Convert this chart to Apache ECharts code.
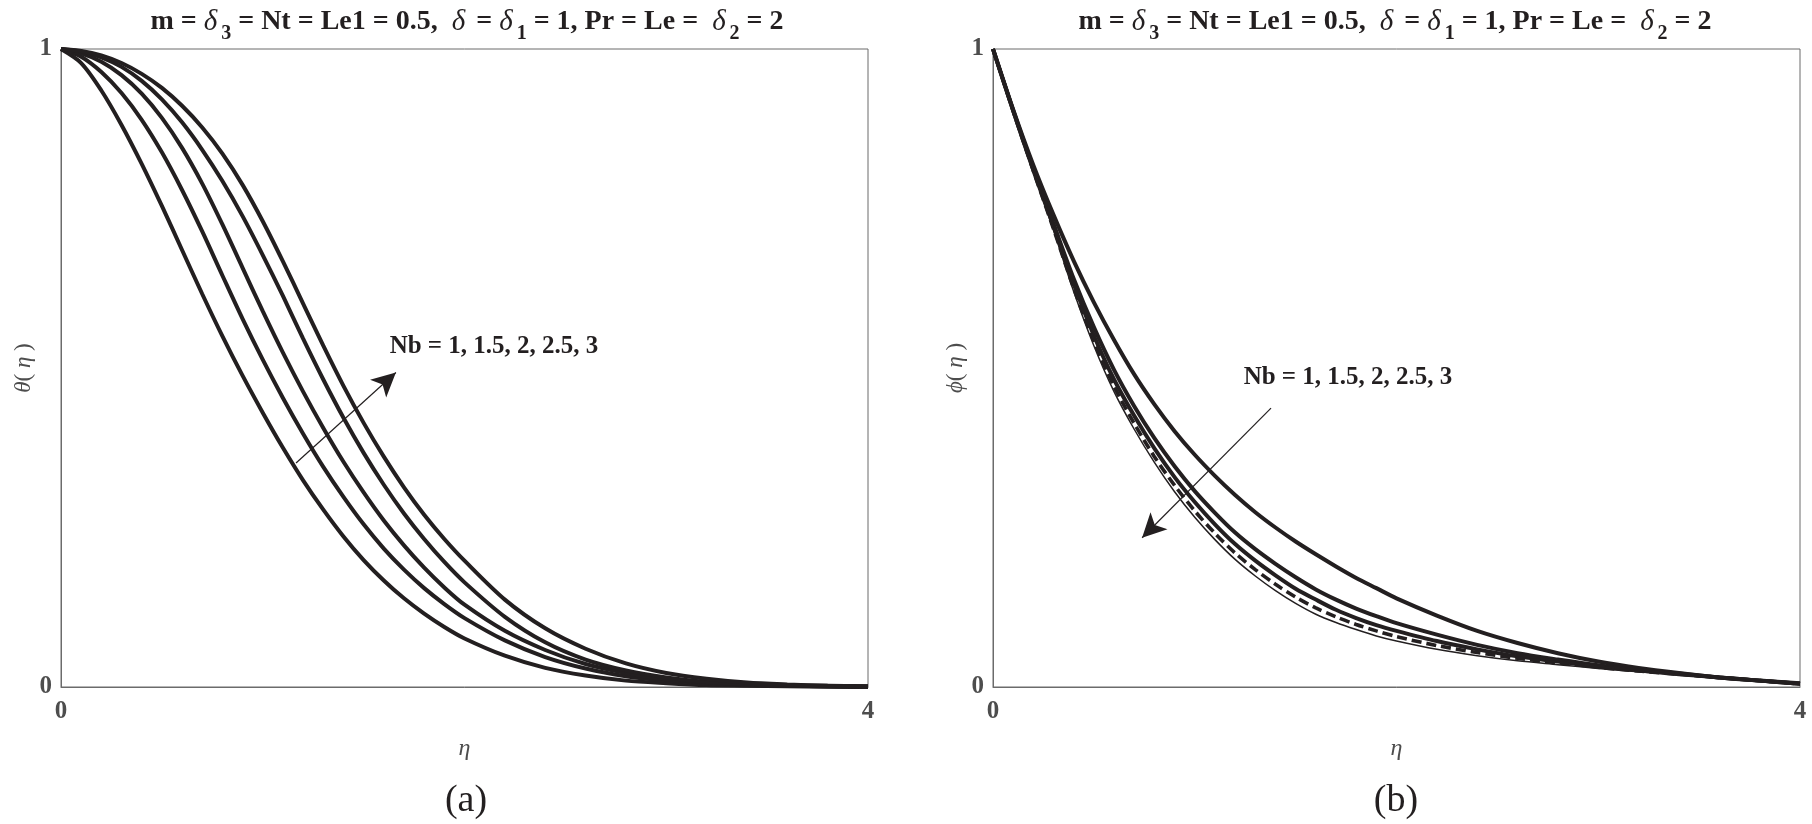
<!DOCTYPE html>
<html lang="en">
<head>
<meta charset="UTF-8">
<title>Nb profiles</title>
<style>
  html, body { margin: 0; padding: 0; background: #fff; }
  #chart { width: 1812px; height: 824px; }
</style>
</head>
<body>
<div id="chart"></div>

<script src="https://cdn.jsdelivr.net/npm/echarts@6/dist/echarts.min.js"></script>
<script type="text/javascript">
// eta grid shared by every curve
var eta = [0, 0.1, 0.2, 0.3, 0.4, 0.5, 0.6, 0.7, 0.8, 0.9, 1.0,
           1.1, 1.2, 1.3, 1.4, 1.5, 1.6, 1.7, 1.8, 1.9, 2.0,
           2.2, 2.4, 2.6, 2.8, 3.0, 3.2, 3.4, 3.6, 3.8, 4.0];

var nbValues = ['1', '1.5', '2', '2.5', '3'];

// (a) temperature theta(eta)
var thetaNb1   = [1.000, 0.978, 0.935, 0.881, 0.820, 0.754, 0.685, 0.616, 0.550, 0.488, 0.430,
                  0.375, 0.324, 0.278, 0.236, 0.199, 0.167, 0.139, 0.115, 0.094, 0.076,
                  0.049, 0.030, 0.018, 0.010, 0.006, 0.003, 0.002, 0.001, 0.0005, 0.000];
var thetaNb1_5 = [1.000, 0.988, 0.964, 0.931, 0.889, 0.838, 0.779, 0.714, 0.645, 0.577, 0.513,
                  0.453, 0.397, 0.345, 0.298, 0.255, 0.217, 0.184, 0.155, 0.130, 0.108,
                  0.073, 0.047, 0.029, 0.017, 0.010, 0.005, 0.003, 0.002, 0.001, 0.000];
var thetaNb2   = [1.000, 0.993, 0.980, 0.959, 0.930, 0.892, 0.845, 0.789, 0.725, 0.657, 0.589,
                  0.524, 0.463, 0.406, 0.353, 0.305, 0.261, 0.222, 0.187, 0.156, 0.129,
                  0.088, 0.058, 0.036, 0.022, 0.012, 0.007, 0.004, 0.002, 0.001, 0.000];
var thetaNb2_5 = [1.000, 0.996, 0.987, 0.972, 0.950, 0.921, 0.885, 0.842, 0.793, 0.738, 0.677,
                  0.613, 0.546, 0.482, 0.422, 0.367, 0.317, 0.272, 0.232, 0.196, 0.164,
                  0.110, 0.070, 0.043, 0.026, 0.015, 0.008, 0.005, 0.003, 0.002, 0.001];
var thetaNb3   = [1.000, 0.997, 0.990, 0.978, 0.961, 0.939, 0.911, 0.877, 0.836, 0.787, 0.730,
                  0.667, 0.601, 0.535, 0.472, 0.414, 0.361, 0.313, 0.270, 0.232, 0.198,
                  0.137, 0.092, 0.060, 0.037, 0.022, 0.013, 0.007, 0.004, 0.002, 0.001];

// (b) concentration phi(eta)
var phiNb1   = [1.000, 0.905, 0.818, 0.740, 0.668, 0.603, 0.544, 0.490, 0.443, 0.401, 0.364,
                0.331, 0.301, 0.274, 0.250, 0.228, 0.208, 0.189, 0.171, 0.155, 0.139,
                0.112, 0.088, 0.069, 0.053, 0.040, 0.030, 0.022, 0.015, 0.010, 0.006];
var phiNb1_5 = [1.000, 0.904, 0.812, 0.726, 0.640, 0.564, 0.497, 0.440, 0.390, 0.346, 0.307,
                0.273, 0.242, 0.216, 0.193, 0.172, 0.153, 0.137, 0.123, 0.111, 0.100,
                0.082, 0.066, 0.053, 0.043, 0.034, 0.027, 0.021, 0.015, 0.010, 0.005];
var phiNb2   = [1.000, 0.903, 0.810, 0.722, 0.632, 0.551, 0.482, 0.425, 0.374, 0.329, 0.290,
                0.255, 0.224, 0.198, 0.175, 0.154, 0.137, 0.121, 0.108, 0.097, 0.088,
                0.072, 0.059, 0.048, 0.040, 0.032, 0.026, 0.020, 0.015, 0.010, 0.005];
var phiNb2_5 = [1.000, 0.903, 0.809, 0.718, 0.625, 0.542, 0.471, 0.413, 0.361, 0.316, 0.276,
                0.241, 0.210, 0.184, 0.161, 0.141, 0.124, 0.110, 0.098, 0.088, 0.079,
                0.065, 0.054, 0.045, 0.038, 0.031, 0.025, 0.020, 0.015, 0.010, 0.005];
var phiNb3   = [1.000, 0.903, 0.808, 0.716, 0.620, 0.535, 0.463, 0.404, 0.352, 0.306, 0.266,
                0.231, 0.200, 0.174, 0.151, 0.131, 0.114, 0.101, 0.090, 0.080, 0.072,
                0.059, 0.049, 0.041, 0.035, 0.029, 0.024, 0.019, 0.014, 0.009, 0.005];

// arrows, in data coordinates [eta, value]; second point is the tip
var arrowA = [[1.165, 0.351], [1.66, 0.493]];
var arrowB = [[1.378, 0.437], [0.739, 0.234]];

var xTicks = [0, 4];
var yTicks = [0, 1];

var FONT = '"Liberation Serif", "DejaVu Serif", serif';
var INK = '#231f20';
var GREY = '#4d4d4d';
var AXIS = '#6b6b6b';

var dom = document.getElementById('chart');
var myChart = echarts.init(dom, null, { renderer: 'canvas' });

function pairs(ys) {
  return eta.map(function (x, i) { return [x, ys[i]]; });
}

function curve(ys, idx, width, dash) {
  return {
    type: 'line',
    xAxisIndex: idx,
    yAxisIndex: idx,
    data: pairs(ys),
    showSymbol: false,
    smooth: 0.3,
    silent: true,
    lineStyle: { color: INK, width: width, type: dash || 'solid' },
    z: 3
  };
}

function arrowLine(seg) {
  return {
    silent: true,
    symbol: ['none', 'arrow'],
    symbolSize: [18, 24],
    label: { show: false },
    lineStyle: { color: INK, width: 1.2, type: 'solid' },
    data: [[{ coord: seg[0] }, { coord: seg[1] }]]
  };
}

function xAxisOf(idx) {
  return {
    type: 'value', gridIndex: idx,
    min: xTicks[0], max: xTicks[1], interval: xTicks[1] - xTicks[0],
    name: 'η', nameLocation: 'middle', nameGap: 50,
    nameTextStyle: { fontFamily: FONT, fontStyle: 'italic', fontSize: 24, color: GREY },
    axisLine: { show: true, lineStyle: { color: AXIS, width: 1 } },
    axisTick: { show: false },
    splitLine: { show: false },
    axisLabel: { fontFamily: FONT, fontWeight: 'bold', fontSize: 25, color: GREY, margin: 12 }
  };
}

function yAxisOf(idx, sym) {
  return {
    type: 'value', gridIndex: idx,
    min: yTicks[0], max: yTicks[1], interval: yTicks[1] - yTicks[0],
    name: '{i|' + sym + '}( {i|η} )', nameLocation: 'middle', nameGap: 20, nameRotate: 90,
    nameTextStyle: {
      fontFamily: FONT, fontSize: 23, color: GREY,
      rich: { i: { fontFamily: FONT, fontStyle: 'italic', fontSize: 23, color: GREY } }
    },
    axisLine: { show: true, lineStyle: { color: AXIS, width: 1 } },
    axisTick: { show: false },
    splitLine: { show: false },
    axisLabel: { fontFamily: FONT, fontWeight: 'bold', fontSize: 25, color: GREY, margin: 9 }
  };
}

var header = 'm = {i|δ}{s|3} = Nt = Le1 = 0.5,  {i|δ} = {i|δ}{s|1} = 1, Pr = Le =  {i|δ}{s|2} = 2';
var headerRich = {
  i: { fontFamily: FONT, fontStyle: 'italic', fontWeight: 'normal', fontSize: 29, color: INK, lineHeight: 30, padding: [0, 4, 0, 0] },
  s: { fontFamily: FONT, fontWeight: 'bold', fontSize: 20, color: INK, verticalAlign: 'bottom', lineHeight: 20 }
};

function headerTitle(cx) {
  return {
    text: header, left: cx, top: -5, textAlign: 'center',
    textStyle: { fontFamily: FONT, fontWeight: 'bold', fontSize: 28, color: INK, lineHeight: 44, rich: headerRich }
  };
}

var s1 = curve(thetaNb1, 0, 4);
s1.markLine = arrowLine(arrowA);
var s6 = curve(phiNb1, 1, 4);
s6.markLine = arrowLine(arrowB);

var option = {
  animation: false,
  backgroundColor: '#ffffff',
  title: [headerTitle(462), headerTitle(1390)],
  grid: [
    { left: 61, top: 49, width: 807, height: 638, show: true, borderColor: AXIS, borderWidth: 1 },
    { left: 993, top: 49, width: 807, height: 638, show: true, borderColor: AXIS, borderWidth: 1 }
  ],
  xAxis: [xAxisOf(0), xAxisOf(1)],
  yAxis: [yAxisOf(0, 'θ'), yAxisOf(1, 'ϕ')],
  series: [
    s1,
    curve(thetaNb1_5, 0, 4),
    curve(thetaNb2, 0, 4),
    curve(thetaNb2_5, 0, 4),
    curve(thetaNb3, 0, 4),
    s6,
    curve(phiNb1_5, 1, 4),
    curve(phiNb2, 1, 4),
    curve(phiNb2_5, 1, 3.6, [10, 5]),
    curve(phiNb3, 1, 1.5)
  ],
  graphic: [
    { type: 'text', x: 494, y: 347, style: { text: 'Nb = ' + nbValues.join(', '), font: 'bold 25px ' + FONT, fill: INK, align: 'center', verticalAlign: 'middle' } },
    { type: 'text', x: 1348, y: 378, style: { text: 'Nb = ' + nbValues.join(', '), font: 'bold 25px ' + FONT, fill: INK, align: 'center', verticalAlign: 'middle' } },
    { type: 'text', x: 466, y: 801, style: { text: '(a)', font: '38px ' + FONT, fill: INK, align: 'center', verticalAlign: 'middle' } },
    { type: 'text', x: 1396, y: 801, style: { text: '(b)', font: '38px ' + FONT, fill: INK, align: 'center', verticalAlign: 'middle' } }
  ]
};

if (option && typeof option === 'object') {
  myChart.setOption(option);
}

window.addEventListener('resize', myChart.resize);
</script>
</body>
</html>
